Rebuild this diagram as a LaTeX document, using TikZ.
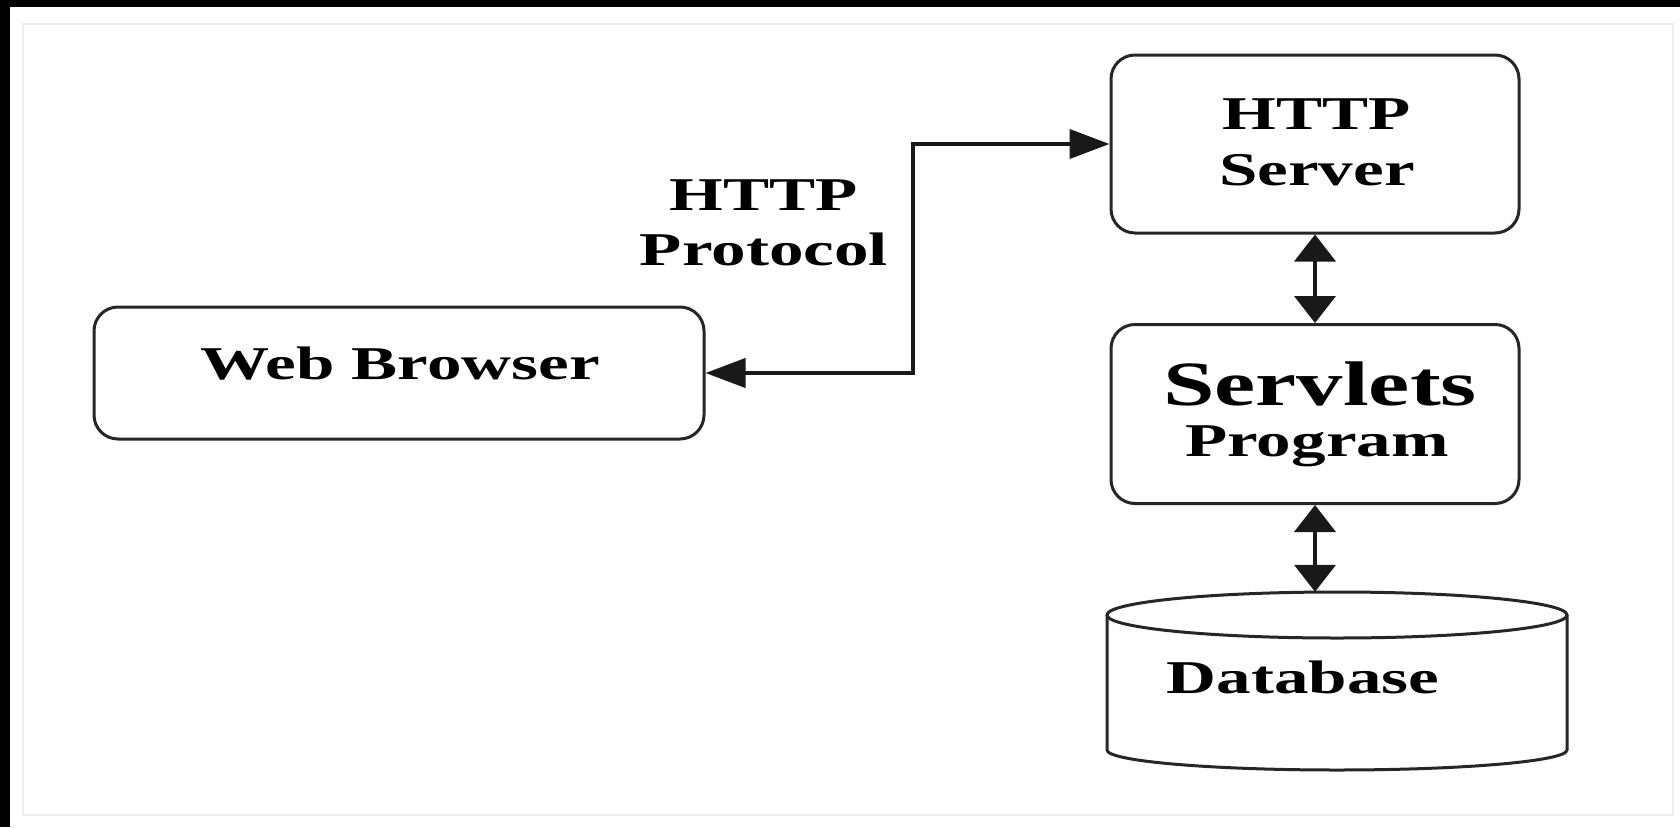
\documentclass[tikz,border=0pt]{standalone}
\usepackage{fontspec}
\setmainfont{Liberation Serif}[FakeStretch=1.47]
\usetikzlibrary{arrows.meta}
\begin{document}
\begin{tikzpicture}[x=1pt,y=-1pt,
  box/.style={draw=black!85, line width=3pt, rounded corners=24pt, inner sep=0pt},
  lbl/.style={inner sep=0pt, anchor=base, text=black, font=\bfseries\fontsize{47}{56}\selectfont},
  biglbl/.style={lbl, font=\bfseries\fontsize{63}{70}\selectfont},
  link/.style={draw=black!90, line width=4pt},
  outline/.style={draw=black!85, line width=3pt},
  hh/.tip={Triangle[length=40pt,width=29pt]},
  vh/.tip={Triangle[length=27pt,width=41pt]}
]
% page and frame
\useasboundingbox (0,0) rectangle (1680,827);
\fill[white] (0,0) rectangle (1680,827);
\draw[black!7, line width=2pt] (23,24) rectangle (1673,815);
\fill[black] (0,0) rectangle (1680,7);
\fill[black] (0,0) rectangle (10,827);

% boxes
\node[box, minimum width=610pt, minimum height=132pt] (web) at (399,373) {};
\node[box, minimum width=408pt, minimum height=178pt] (srv) at (1315,144) {};
\node[box, minimum width=408pt, minimum height=179pt] (slt) at (1315,414) {};
\node[inner sep=0pt, minimum width=460pt, minimum height=178pt] (db) at (1337,681) {};

% database cylinder
\draw[outline] (1337,615) ellipse [x radius=230pt, y radius=23pt];
\draw[outline] (1107,615) -- (1107,750)
  arc[start angle=180, end angle=360, x radius=230pt, y radius=20pt] -- (1567,615);

% texts
\node[lbl] (wbt) at (400,379) {Web Browser};
\node[lbl] (pr1) at (764,210) {HTTP};
\node[lbl] (pr2) at (764,265) {Protocol};
\node[lbl] (sv1) at (1317,129) {HTTP};
\node[lbl] (sv2) at (1317,185) {Server};
\node[biglbl] (sl1) at (1320,405) {Servlets};
\node[lbl] (sl2) at (1317,456) {Program};
\node[lbl] (dbt) at (1303,693) {Database};

% connectors
\coordinate (bend) at (913,0);
\draw[link, hh-hh] (web.east) -- (web.east -| bend) -- (bend |- srv.west) -- (srv.west);
\draw[link, vh-vh] (srv.south) -- (slt.north);
\draw[link, vh-vh] (slt.south) -- (slt.south |- db.north);
\end{tikzpicture}
\end{document}
